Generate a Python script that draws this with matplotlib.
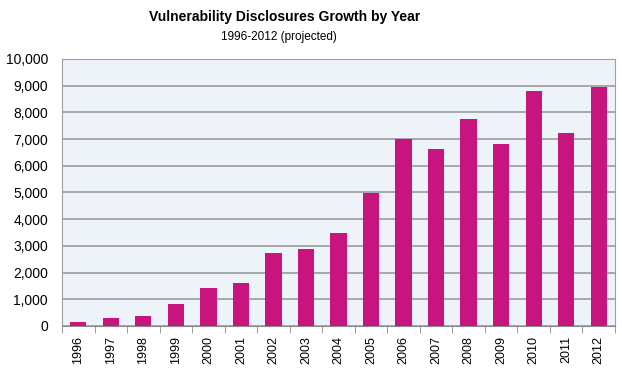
import matplotlib
matplotlib.use('Agg')
import matplotlib.pyplot as plt
from matplotlib.ticker import FuncFormatter

plt.rcParams['font.family'] = ['Liberation Sans', 'DejaVu Sans']

years = ['1996', '1997', '1998', '1999', '2000', '2001', '2002', '2003', '2004',
         '2005', '2006', '2007', '2008', '2009', '2010', '2011', '2012']
disclosures = [140, 290, 375, 810, 1425, 1600, 2725, 2875, 3490,
               4990, 7000, 6640, 7760, 6825, 8800, 7240, 8940]

fig = plt.figure(figsize=(6.22, 3.72), dpi=100)
ax = fig.add_axes([0.0997, 0.1237, 0.889, 0.7177])
ax.set_facecolor('#eef2f9')

x = range(len(years))
ax.bar(x, disclosures, width=0.5, color='#c8147f', zorder=3)

ax.set_xlim(-0.5, len(years) - 0.5)
ax.set_ylim(0, 10000)
ax.set_yticks(range(0, 10001, 1000))
ax.yaxis.set_major_formatter(FuncFormatter(lambda v, p: f'{int(v):,}'))
ax.grid(axis='y', color='#939393', linewidth=1.1, zorder=1)

ax.set_xticks(list(x))
ax.set_xticklabels(years, rotation=90, fontsize=9)
ax.set_xticks([i - 0.5 for i in range(len(years) + 1)], minor=True)
ax.tick_params(axis='x', which='major', length=0, pad=7)
ax.tick_params(axis='x', which='minor', length=5, color='#8a8a8a')
ax.tick_params(axis='y', length=0, labelsize=10, pad=10)

for side in ['left', 'top', 'right']:
    ax.spines[side].set_color('#a0a0a0')
ax.spines['bottom'].set_color('#8a8a8a')

fig.text(0.458, 0.955, 'Vulnerability Disclosures Growth by Year',
         ha='center', va='center', fontsize=10, fontweight='bold')
fig.text(0.449, 0.9, '1996-2012 (projected)', ha='center', va='center', fontsize=8.5)

fig.savefig('out.png', dpi=100)
